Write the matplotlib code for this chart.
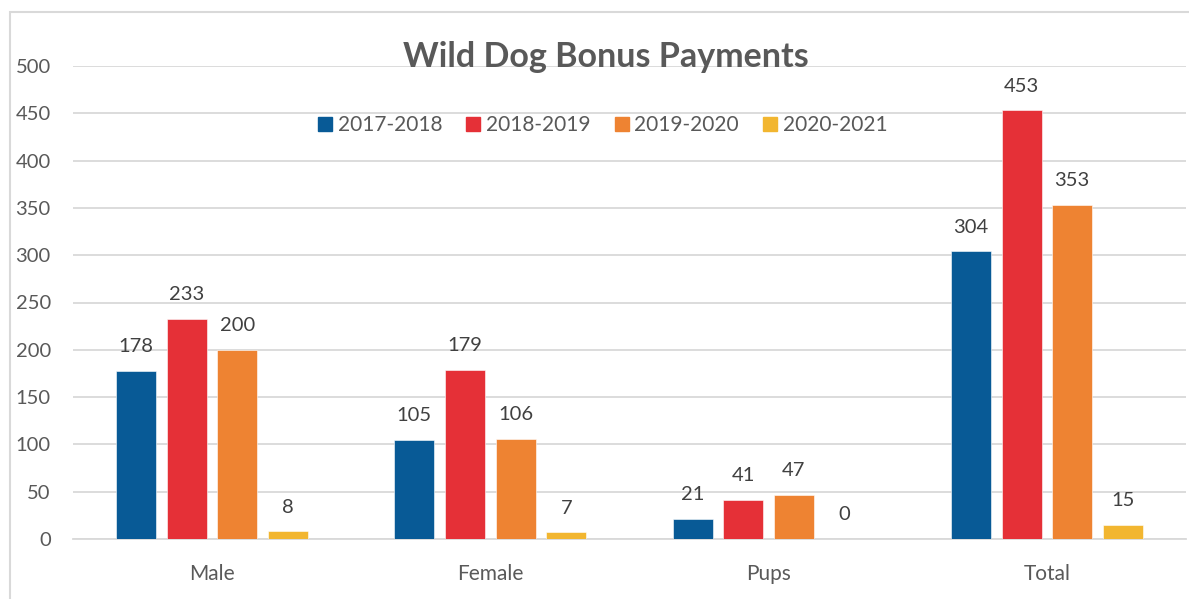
import matplotlib
matplotlib.use("Agg")
import matplotlib.pyplot as plt
from matplotlib.lines import Line2D
from matplotlib.patches import Rectangle
import numpy as np

categories = ["Male", "Female", "Pups", "Total"]
series_names = ["2017-2018", "2018-2019", "2019-2020", "2020-2021"]
v2017 = [178, 105, 21, 304]
v2018 = [233, 179, 41, 453]
v2019 = [200, 106, 47, 353]
v2020 = [8, 7, 0, 15]
colors = ["#085A96", "#E53037", "#EE8332", "#F2B630"]
yticks = [0, 50, 100, 150, 200, 250, 300, 350, 400, 450, 500]

plt.rcParams['font.family'] = ['Lato', 'DejaVu Sans']
txt = "#595959"

fig = plt.figure(figsize=(11.89, 5.99), dpi=100)
ax = fig.add_axes([73/1189, 1-539/599, (1186-73)/1189, (539-66)/599])

x = np.arange(len(categories))
width = 0.144
step = 0.182
all_series = [v2017, v2018, v2019, v2020]
for i, (vals, c) in enumerate(zip(all_series, colors)):
    pos = x + (i - 1.5) * step
    ax.bar(pos, vals, width=width, color=c, edgecolor="white", linewidth=0.4, zorder=3)
    for xp, v in zip(pos, vals):
        ax.annotate(str(v), (xp, v), xytext=(0, 17.5), textcoords="offset points",
                    ha="center", va="center", fontsize=14.5, color="#404040")

ax.set_xlim(-0.5, 3.5)
ax.set_ylim(0, 500)
ax.set_yticks(yticks)
ax.set_xticks(x)
ax.set_xticklabels(categories)
ax.tick_params(axis="both", length=0, labelsize=14.5, labelcolor=txt)
ax.tick_params(axis="x", pad=18, labelsize=15)
ax.tick_params(axis="y", pad=16)
ax.grid(axis="y", color="#D9D9D9", linewidth=1.3, zorder=0)
for s in ["top", "right", "left"]:
    ax.spines[s].set_visible(False)
ax.spines["bottom"].set_color("#D9D9D9")
ax.spines["bottom"].set_linewidth(1.3)

fig.text(606/1189, 1-57/599, "Wild Dog Bonus Payments", ha="center", va="center",
         fontsize=24.5, fontweight="bold", color=txt)

handles = [Line2D([], [], marker="s", linestyle="none", markersize=10, color=c) for c in colors]
fig.legend(handles, series_names, loc="center", bbox_to_anchor=(603/1189, 1-125/599),
           ncol=4, frameon=False, fontsize=15, handlelength=0.6, handletextpad=0.3,
           columnspacing=1.2, labelcolor=txt)

fig.patches.append(Rectangle((10/1189, -0.1), 1.2, 1-12/599+0.1, transform=fig.transFigure,
                             fill=False, edgecolor="#D9D9D9", linewidth=1.5))

fig.savefig("out.png", dpi=100)
